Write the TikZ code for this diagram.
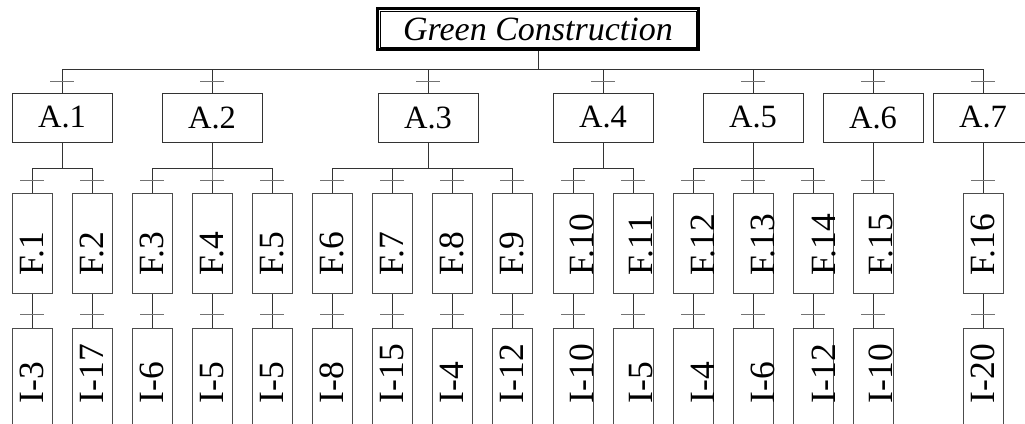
\documentclass[tikz,border=0pt]{standalone}
\usepackage{fontspec}
\setmainfont{Liberation Serif}
\begin{document}
\begin{tikzpicture}[x=1pt,y=-1pt,
  conn/.style={draw=black!80, line width=1pt},
  tick/.style={draw=black!55, line width=1pt},
  titlebox/.style={draw=black, line width=3pt, minimum width=321pt, minimum height=41pt, inner sep=0pt, font=\fontsize{34}{38}\selectfont\itshape},
  abox/.style={draw=black!80, line width=1pt, minimum width=100pt, minimum height=49pt, inner sep=0pt, font=\fontsize{32.5}{36}\selectfont},
  fbox/.style={draw=black!70, line width=1pt, minimum width=40pt, minimum height=100pt, inner sep=0pt, font=\fontsize{35.5}{38}\selectfont},
  ibox/.style={fbox, minimum height=102pt},
]
\useasboundingbox (0,0) rectangle (1025,423);
\clip (0,0) rectangle (1025,423);

% title
\node[titlebox] (title) at (538,29) {Green Construction};
\draw[line width=1pt] ([shift={(4,4)}]title.north west) rectangle ([shift={(-4,-4)}]title.south east);

% level A
\foreach \a/\x in {1/62,2/212,3/428,4/603,5/753,6/873,7/983}
  \node[abox] (a\a) at (\x,117.5) {A.\a};

% level F
\foreach \k/\x/\s in {1/32/0,2/92/0,3/152/0,4/212/0,5/272/0,6/332/0,7/392/0,8/452/0,9/512/0,
  10/573/17,11/633/17,12/693/20,13/753/20,14/813/22,15/873/16,16/983/0}
  \node[fbox] (f\k) at (\x,243) {\makebox[0pt]{\hspace*{\s pt}\rotatebox{90}{\makebox[64pt][l]{F.\k}}}};

% level I
\foreach \k/\x/\s/\lab in {1/32/0/3,2/92/0/17,3/152/0/6,4/212/0/5,5/272/0/5,6/332/0/8,7/392/0/15,8/452/0/4,9/512/0/12,
  10/573/17/10,11/633/17/5,12/693/20/4,13/753/20/6,14/813/22/12,15/873/16/10,16/983/0/20}
  \node[ibox] (i\k) at (\x,379) {\makebox[0pt]{\hspace*{\s pt}\rotatebox{90}{\makebox[48pt][l]{I-\lab}}}};

% connectors title -> A
\foreach \a in {1,...,7} {
  \draw[conn] (title.south) -- ++(0,18.5) -| (a\a.north);
  \draw[tick] ([shift={(-12,-11)}]a\a.north) -- ++(24,0);
}

% connectors A -> F and F -> I
\foreach \k/\p in {1/1,2/1,3/2,4/2,5/2,6/3,7/3,8/3,9/3,10/4,11/4,12/5,13/5,14/5,15/6,16/7} {
  \draw[conn] (a\p.south) -- ++(0,26) -| (f\k.north);
  \draw[tick] ([shift={(-12,-12)}]f\k.north) -- ++(24,0);
  \draw[conn] (f\k.south) -- (i\k.north);
  \draw[tick] ([shift={(-12,-13)}]i\k.north) -- ++(24,0);
}
\end{tikzpicture}
\end{document}
